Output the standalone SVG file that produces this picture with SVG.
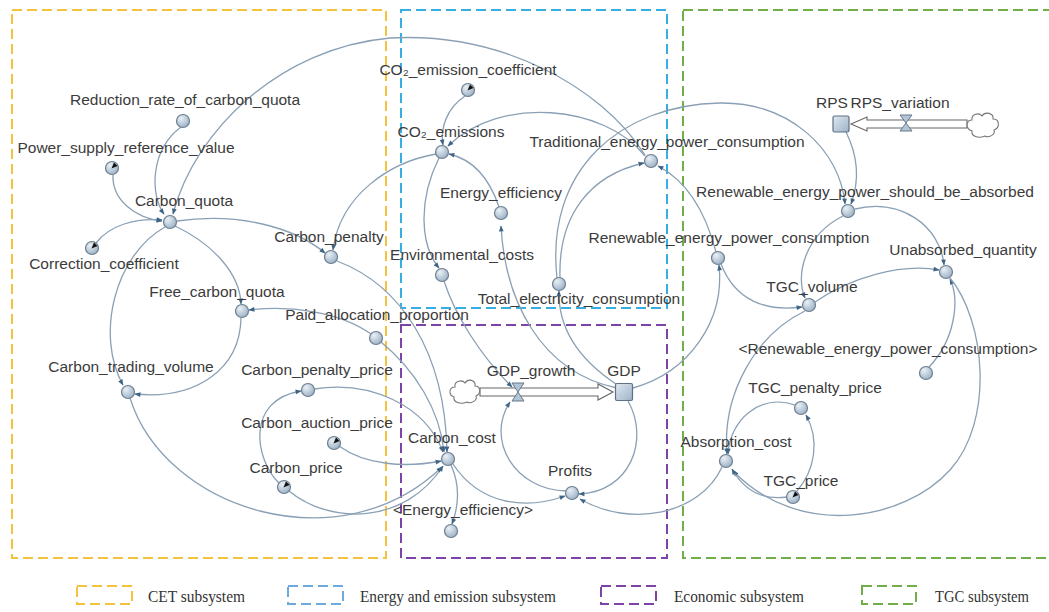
<svg xmlns="http://www.w3.org/2000/svg" width="1049" height="612" viewBox="0 0 1049 612">
<style>
.lbl{font-family:"Liberation Sans",Arial,sans-serif;font-size:15.5px;fill:#3b3b3b;text-anchor:middle}
.leg{font-family:"Liberation Serif","Times New Roman",serif;font-size:17px;fill:#333}
.node{fill:url(#ng);stroke:#6d7f91;stroke-width:1.2}
.stock{fill:url(#sg);stroke:#5f7182;stroke-width:1.2}
.con{fill:none;stroke:#8aa0b5;stroke-width:1.3;marker-end:url(#ah)}
.wedge{fill:#111}
.box{fill:none;stroke-width:2;stroke-dasharray:10 5}
.pipe{fill:#fff;stroke:#666;stroke-width:1.1}
.valve{fill:#b3c4d4;stroke:#66788a;stroke-width:1}
.cloud{fill:#fff;stroke:#777;stroke-width:1.1}
</style>
<defs>
<radialGradient id="ng" cx="35%" cy="30%" r="75%"><stop offset="0" stop-color="#e9f0f6"/><stop offset="1" stop-color="#9bb0c4"/></radialGradient>
<linearGradient id="sg" x1="0" y1="0" x2="1" y2="1"><stop offset="0" stop-color="#dfe8f1"/><stop offset="1" stop-color="#9db2c6"/></linearGradient>
<marker id="ah" viewBox="0 0 10 10" refX="9" refY="5" markerWidth="7" markerHeight="6" markerUnits="userSpaceOnUse" orient="auto"><path d="M0,1 L10,5 L0,9 Z" fill="#3f6586"/></marker>
</defs>
<rect width="1049" height="612" fill="#fff"/>

<g id="subsystems">
<rect class="box" x="12" y="10" width="374" height="548" stroke="#F5C23E"/>
<rect class="box" x="401" y="10" width="266" height="298" stroke="#36ADE3"/>
<rect class="box" x="401" y="325" width="266" height="233" stroke="#7E43A8"/>
<rect class="box" x="683" y="10" width="380" height="548" stroke="#70AE48"/>
</g>

<g id="connectors">
<path class="con" d="M181,127 C150,150 150,195 164,214"/>
<path class="con" d="M645,155 C600,85 500,32 390,38 C280,48 195,130 173,214"/>
<path class="con" d="M113,175 C112,200 135,218 162,221"/>
<path class="con" d="M96,243 C110,225 135,218 162,220"/>
<path class="con" d="M177,221 C240,212 295,228 325,253"/>
<path class="con" d="M436,154 C390,162 340,195 333,250"/>
<path class="con" d="M175,226 C215,245 240,275 241,304"/>
<path class="con" d="M165,227 C115,255 95,335 123,385"/>
<path class="con" d="M241,318 C240,370 195,400 135,394"/>
<path class="con" d="M371,334 C340,312 290,305 249,310"/>
<path class="con" d="M381,342 C415,370 440,410 444,452"/>
<path class="con" d="M337,261 C400,285 445,350 447,452"/>
<path class="con" d="M314,389 C370,380 425,405 443,452"/>
<path class="con" d="M339,446 C365,465 405,468 441,461"/>
<path class="con" d="M279,483 C255,460 245,400 301,391"/>
<path class="con" d="M289,491 C330,525 405,525 443,466"/>
<path class="con" d="M130,398 C165,510 340,565 442,467"/>
<path class="con" d="M451,465 C460,485 459,505 452,524"/>
<path class="con" d="M453,464 C480,505 525,510 565,496"/>
<path class="con" d="M465,96 C447,108 440,128 443,145"/>
<path class="con" d="M645,156 C605,105 500,95 448,146"/>
<path class="con" d="M499,207 C490,180 475,160 449,154"/>
<path class="con" d="M439,158 C418,200 420,245 439,268"/>
<path class="con" d="M444,281 C455,315 480,355 512,387"/>
<path class="con" d="M566,491 C515,490 485,440 510,402"/>
<path class="con" d="M628,401 C650,440 630,492 579,494"/>
<path class="con" d="M617,388 C540,372 505,300 501,226"/>
<path class="con" d="M616,384 C580,360 558,330 559,291"/>
<path class="con" d="M560,278 C558,215 590,175 644,163"/>
<path class="con" d="M557,278 C545,170 620,105 720,103 C790,102 840,150 845,204"/>
<path class="con" d="M716,252 C705,210 685,180 658,166"/>
<path class="con" d="M633,388 C690,372 725,320 719,265"/>
<path class="con" d="M846,132 C860,160 858,185 851,204"/>
<path class="con" d="M855,209 C900,198 940,225 944,265"/>
<path class="con" d="M843,216 C805,235 795,275 805,298"/>
<path class="con" d="M721,264 C735,300 765,312 802,307"/>
<path class="con" d="M815,302 C850,278 900,263 939,270"/>
<path class="con" d="M929,367 C955,340 960,300 950,279"/>
<path class="con" d="M950,278 C985,320 995,420 950,470 C905,520 800,540 733,471"/>
<path class="con" d="M805,311 C755,335 722,395 727,454"/>
<path class="con" d="M795,405 C760,393 730,420 728,454"/>
<path class="con" d="M797,491 C815,470 820,440 806,415"/>
<path class="con" d="M787,497 C765,500 745,492 732,469"/>
<path class="con" d="M722,467 C700,515 630,528 580,499"/>
</g>

<g id="GDP_flow">
<path class="pipe" d="M480,388 L598,388 L598,384 L613,392 L598,400 L598,396 L480,396 Z"/>
<path class="cloud" d="M467,402 C460,405 453,402 454,397 C448,395 449,387 455,387 C454,381 462,379 465,383 C468,378 476,380 475,386 C481,386 481,394 476,396 C478,401 470,404 467,402 Z"/>
<path class="valve" d="M512,383 L524,383 L518,392 Z M518,392 L524,401 L512,401 Z"/>
<text class="lbl" x="531" y="376">GDP_growth</text>
</g>
<g id="GDP">
<rect class="stock" x="615.5" y="383.5" width="17" height="17" rx="1.5"/>
<text class="lbl" x="624" y="376">GDP</text>
</g>

<g id="RPS_flow">
<path class="pipe" d="M967,120 L867,120 L867,117 L851,124 L867,131 L867,128 L967,128 Z"/>
<path class="cloud" d="M985,136 C978,139 971,136 972,131 C965,129 966,120 972,120 C971,114 979,112 982,116 C985,111 994,113 993,119 C1000,119 1000,128 994,130 C996,135 988,138 985,136 Z"/>
<path class="valve" d="M900,115 L912,115 L906,123 Z M906,123 L912,131 L900,131 Z"/>
<text class="lbl" x="900" y="108">RPS_variation</text>
</g>
<g id="RPS">
<rect class="stock" x="833" y="116" width="16" height="16" rx="1.5"/>
<text class="lbl" x="832" y="108">RPS</text>
</g>

<g id="Reduction_rate_of_carbon_quota"><circle class="node" cx="183" cy="121" r="6.5"/><text class="lbl" x="185" y="105">Reduction_rate_of_carbon_quota</text></g>
<g id="Power_supply_reference_value"><circle class="node" cx="112" cy="168" r="6.5"/><path class="wedge" d="M111.5,168.5 L114,162.5 L117.5,166 Z"/><text class="lbl" x="126" y="153">Power_supply_reference_value</text></g>
<g id="Carbon_quota"><circle class="node" cx="170" cy="222" r="6.5"/><text class="lbl" x="184" y="206">Carbon_quota</text></g>
<g id="Correction_coefficient"><circle class="node" cx="92" cy="248" r="6.5"/><path class="wedge" d="M91.5,248.5 L94,242.5 L97.5,246 Z"/><text class="lbl" x="104" y="269">Correction_coefficient</text></g>
<g id="Carbon_penalty"><circle class="node" cx="331" cy="257" r="6.5"/><text class="lbl" x="329" y="242">Carbon_penalty</text></g>
<g id="Free_carbon_quota"><circle class="node" cx="242" cy="311" r="6.5"/><text class="lbl" x="217" y="297">Free_carbon_quota</text></g>
<g id="Carbon_trading_volume"><circle class="node" cx="128" cy="392" r="6.5"/><text class="lbl" x="131" y="372">Carbon_trading_volume</text></g>
<g id="Paid_allocation_proportion"><circle class="node" cx="376" cy="338" r="6.5"/><text class="lbl" x="377" y="320">Paid_allocation_proportion</text></g>
<g id="Carbon_penalty_price"><circle class="node" cx="308" cy="390" r="6.5"/><text class="lbl" x="317" y="375">Carbon_penalty_price</text></g>
<g id="Carbon_auction_price"><circle class="node" cx="334" cy="443" r="6.5"/><path class="wedge" d="M333.5,443.5 L336,437.5 L339.5,441 Z"/><text class="lbl" x="317" y="428">Carbon_auction_price</text></g>
<g id="Carbon_price"><circle class="node" cx="284" cy="487" r="6.5"/><path class="wedge" d="M283.5,487.5 L286,481.5 L289.5,485 Z"/><text class="lbl" x="296" y="473">Carbon_price</text></g>
<g id="CO2_emission_coefficient"><circle class="node" cx="468" cy="90" r="6.5"/><path class="wedge" d="M467.5,90.5 L470,84.5 L473.5,88 Z"/><text class="lbl" x="468" y="75">CO₂_emission_coefficient</text></g>
<g id="CO2_emissions"><circle class="node" cx="442" cy="152" r="6.5"/><text class="lbl" x="451" y="137">CO₂_emissions</text></g>
<g id="Energy_efficiency"><circle class="node" cx="501" cy="213" r="6.5"/><text class="lbl" x="501" y="198">Energy_efficiency</text></g>
<g id="Environmental_costs"><circle class="node" cx="442" cy="275" r="6.5"/><text class="lbl" x="462" y="260">Environmental_costs</text></g>
<g id="Total_electricity_consumption"><circle class="node" cx="559" cy="284" r="6.5"/><text class="lbl" x="579" y="304">Total_electricity_consumption</text></g>
<g id="Traditional_energy_power_consumption"><circle class="node" cx="651" cy="161" r="6.5"/><text class="lbl" x="667" y="147">Traditional_energy_power_consumption</text></g>
<g id="Renewable_energy_power_consumption"><circle class="node" cx="718" cy="258" r="6.5"/><text class="lbl" x="729" y="243">Renewable_energy_power_consumption</text></g>
<g id="Renewable_energy_power_should_be_absorbed"><circle class="node" cx="848" cy="211" r="6.5"/><text class="lbl" x="865" y="197">Renewable_energy_power_should_be_absorbed</text></g>
<g id="Unabsorbed_quantity"><circle class="node" cx="946" cy="272" r="6.5"/><text class="lbl" x="963" y="255">Unabsorbed_quantity</text></g>
<g id="TGC_volume"><circle class="node" cx="809" cy="305" r="6.5"/><text class="lbl" x="812" y="292">TGC_volume</text></g>
<g id="Renewable_energy_power_consumption_shadow"><circle class="node" cx="926" cy="373" r="6.5"/><text class="lbl" x="888" y="354">&lt;Renewable_energy_power_consumption&gt;</text></g>
<g id="TGC_penalty_price"><circle class="node" cx="801" cy="408" r="6.5"/><text class="lbl" x="815" y="393">TGC_penalty_price</text></g>
<g id="Absorption_cost"><circle class="node" cx="726" cy="461" r="6.5"/><text class="lbl" x="736" y="447">Absorption_cost</text></g>
<g id="TGC_price"><circle class="node" cx="793" cy="497" r="6.5"/><path class="wedge" d="M792.5,497.5 L795,491.5 L798.5,495 Z"/><text class="lbl" x="801" y="486">TGC_price</text></g>
<g id="Carbon_cost"><circle class="node" cx="448" cy="459" r="6.5"/><text class="lbl" x="452" y="443">Carbon_cost</text></g>
<g id="Energy_efficiency_shadow"><circle class="node" cx="451" cy="531" r="6.5"/><text class="lbl" x="463" y="515">&lt;Energy_efficiency&gt;</text></g>
<g id="Profits"><circle class="node" cx="572" cy="493" r="6.5"/><text class="lbl" x="570" y="476">Profits</text></g>

<g id="legend">
<rect class="box" x="77" y="586" width="55" height="18" stroke="#F5C23E" stroke-width="1.6" stroke-dasharray="8 5"/>
<text class="leg" x="148" y="602" textLength="97" lengthAdjust="spacingAndGlyphs">CET subsystem</text>
<rect class="box" x="288" y="586" width="55" height="18" stroke="#6FA8DC" stroke-width="1.6" stroke-dasharray="8 5"/>
<text class="leg" x="360" y="602" textLength="196" lengthAdjust="spacingAndGlyphs">Energy and emission subsystem</text>
<rect class="box" x="601" y="586" width="55" height="18" stroke="#7E43A8" stroke-width="1.6" stroke-dasharray="8 5"/>
<text class="leg" x="674" y="602" textLength="130" lengthAdjust="spacingAndGlyphs">Economic subsystem</text>
<rect class="box" x="862" y="586" width="54" height="18" stroke="#70AE48" stroke-width="1.6" stroke-dasharray="8 5"/>
<text class="leg" x="935" y="602" textLength="94" lengthAdjust="spacingAndGlyphs">TGC subsystem</text>
</g>
</svg>
